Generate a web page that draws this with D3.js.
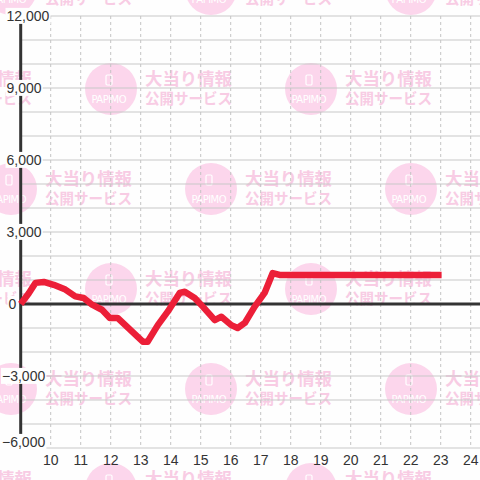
<!DOCTYPE html>
<html><head><meta charset="utf-8">
<script src="https://cdn.jsdelivr.net/npm/d3@7"></script>
<style>
html,body{margin:0;padding:0;background:#fefefe;}
svg{display:block;}
</style></head>
<body>
<svg id="chart" width="480" height="480"></svg>
<script>
// ---- data ----
const times = [9.0, 9.27, 9.49, 9.77, 10.1, 10.49, 10.82, 11.1, 11.38, 11.71, 11.97, 12.23, 13.07, 13.23, 13.57, 13.9, 14.3, 14.47, 14.8, 15.07, 15.47, 15.69, 16.02, 16.23, 16.47, 16.8, 17.13, 17.4, 17.63, 23.03];
const values = [0, 450, 880, 920, 800, 600, 320, 250, -30, -240, -580, -580, -1570, -1570, -880, -320, 460, 510, 250, -110, -670, -530, -880, -1000, -790, -110, 460, 1290, 1210, 1210];
const yTicks = [-6000, -3000, 0, 3000, 6000, 9000, 12000];
const yGrid = d3.range(-6000, 12001, 1000);
const xTicks = [10, 11, 12, 13, 14, 15, 16, 17, 18, 19, 20, 21, 22, 23, 24];
const wmLine1 = "大当り情報";
const wmLine2 = "公開サービス";
const wmBrand = "PAPIMO";

const svg = d3.select("#chart");
const W = 480, H = 480;
const x = d3.scaleLinear().domain([9, 24.3]).range([20.7, 479.7]);
const y = d3.scaleLinear().domain([-6000, 12000]).range([448, 16]);

// ---- watermark ----
const wm = svg.append("g");
const spots = [];
for (let r = 0; r < 6; r++) {
  for (let k = -1; k < 3; k++) {
    spots.push({cx: 11 + 100 * (r % 2) + 200 * k, cy: -11 + 100 * r});
  }
}
spots.forEach(s => {
  const g = wm.append("g").attr("transform", `translate(${s.cx},${s.cy})`);
  g.append("circle").attr("r", 26).attr("fill", "#fcd6ec");
  g.append("rect").attr("x", -5).attr("y", -14).attr("width", 6).attr("height", 10).attr("rx", 1.2)
    .attr("fill", "none").attr("stroke", "#fff").attr("stroke-width", 1.2);
  g.append("text").attr("x", -2).attr("y", 14).attr("text-anchor", "middle")
    .attr("font-family", "DejaVu Sans, sans-serif").attr("font-size", 10)
    .attr("fill", "#fff").attr("textLength", 35).attr("lengthAdjust", "spacing").text(wmBrand);
  g.append("text").attr("x", 34).attr("y", -4).attr("font-family", "Noto Sans CJK JP").attr("font-size", 17)
    .attr("font-weight", "bold").attr("fill", "#f8cce4").attr("textLength", 87).attr("lengthAdjust", "spacingAndGlyphs").text(wmLine1);
  g.append("text").attr("x", 34).attr("y", 15).attr("font-family", "Noto Sans CJK JP").attr("font-size", 15)
    .attr("font-weight", "bold").attr("fill", "#f8cce4").attr("textLength", 87).attr("lengthAdjust", "spacingAndGlyphs").text(wmLine2);
});

// ---- grid ----
svg.append("g").selectAll("line").data(yGrid).join("line")
  .attr("x1", x(9)).attr("x2", W).attr("y1", d => y(d)).attr("y2", d => y(d))
  .attr("stroke", "#c8c8c8").attr("stroke-width", 1.2);
svg.append("g").selectAll("line").data(xTicks).join("line")
  .attr("x1", d => x(d)).attr("x2", d => x(d)).attr("y1", y(12000)).attr("y2", y(-6000))
  .attr("stroke", "#c4c4c4").attr("stroke-width", 1).attr("stroke-dasharray", "3,3");

// zero line
svg.append("line").attr("x1", x(9)).attr("x2", W).attr("y1", y(0)).attr("y2", y(0))
  .attr("stroke", "#333").attr("stroke-width", 3);
// y axis line
svg.append("line").attr("x1", x(9)).attr("x2", x(9)).attr("y1", y(12000)).attr("y2", y(-6000))
  .attr("stroke", "#333").attr("stroke-width", 3);

// ---- series ----
const pts = times.map((t, i) => [t, values[i]]);
svg.append("path").datum(pts)
  .attr("d", d3.line().x(d => x(d[0])).y(d => y(d[1])))
  .attr("fill", "none").attr("stroke", "#ec1f38").attr("stroke-width", 6.5)
  .attr("stroke-linejoin", "round").attr("stroke-linecap", "butt");

// ---- y labels ----
const fmt = d3.format(",");
const yl = svg.append("g");
yTicks.forEach(v => {
  const g = yl.append("g");
  const lx = v < 0 ? 2 : (v === 0 ? 8.5 : 6.5);
  const ly = y(v) + (v === -6000 ? -6 : 0);
  const t = g.append("text").attr("x", lx).attr("y", ly).attr("dy", "0.35em")
    .attr("font-family", "Liberation Sans, Arial, sans-serif").attr("font-size", 14)
    .attr("fill", "#333").text(fmt(v));
  const b = t.node().getBBox();
  g.insert("rect", "text").attr("x", b.x - 1).attr("y", b.y).attr("width", b.width + 2).attr("height", b.height)
    .attr("fill", "#fefefe");
});

// ---- x labels ----
svg.append("g").selectAll("text").data(xTicks).join("text")
  .attr("x", d => x(d)).attr("y", 460).attr("dy", "0.35em").attr("text-anchor", "middle")
  .attr("font-family", "Liberation Sans, Arial, sans-serif").attr("font-size", 14)
  .attr("fill", "#333").text(d => d);
</script>
</body></html>
